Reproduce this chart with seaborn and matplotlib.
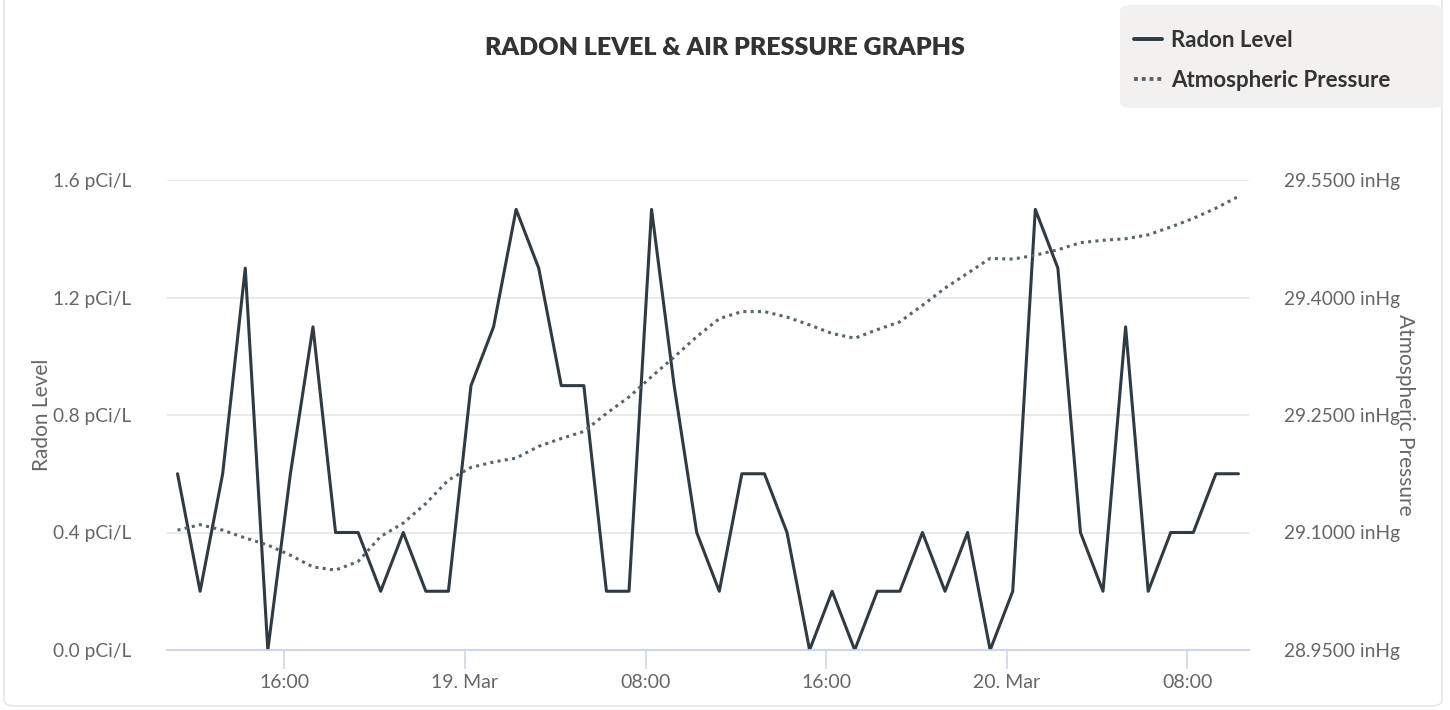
import pandas as pd
import matplotlib.pyplot as plt
import matplotlib.dates as mdates
from matplotlib.lines import Line2D
from matplotlib.patches import FancyBboxPatch
import seaborn as sns

# hourly readings, 18 Mar 11:16 -> 20 Mar 10:16
start_time = "2024-03-18 11:16"
radon_level = [0.6, 0.2, 0.6, 1.3, 0.0, 0.6, 1.1, 0.4, 0.4, 0.2, 0.4, 0.2,
               0.2, 0.9, 1.1, 1.5, 1.3, 0.9, 0.9, 0.2, 0.2, 1.5, 0.9, 0.4,
               0.2, 0.6, 0.6, 0.4, 0.0, 0.2, 0.0, 0.2, 0.2, 0.4, 0.2, 0.4,
               0.0, 0.2, 1.5, 1.3, 0.4, 0.2, 1.1, 0.2, 0.4, 0.4, 0.6, 0.6]
pressure = [29.103, 29.110, 29.103, 29.093, 29.084, 29.071, 29.056, 29.052,
            29.063, 29.095, 29.112, 29.137, 29.167, 29.183, 29.190, 29.195,
            29.210, 29.220, 29.229, 29.252, 29.273, 29.299, 29.324, 29.350,
            29.373, 29.382, 29.382, 29.375, 29.365, 29.354, 29.348, 29.359,
            29.369, 29.390, 29.412, 29.431, 29.450, 29.449, 29.454, 29.461,
            29.470, 29.473, 29.475, 29.480, 29.490, 29.501, 29.514, 29.529]
radon_ticks = [0.0, 0.4, 0.8, 1.2, 1.6]
pressure_ticks = [28.95, 29.10, 29.25, 29.40, 29.55]

df = pd.DataFrame({
    "time": pd.date_range(start_time, periods=len(radon_level), freq="h"),
    "radon": radon_level,
    "pressure": pressure,
})

sns.set_theme(style="white")
plt.rcParams["font.family"] = ["Lato", "DejaVu Sans"]

radon_color = "#2f3b44"
pressure_color = "#58646e"
label_color = "#666666"
W, H = 1450, 710

fig = plt.figure(figsize=(14.5, 7.1), dpi=100)
# outer chart border
fig.patches.append(FancyBboxPatch((4 / W, 4 / H), 1438 / W, 720 / H,
                                  boxstyle="round,pad=0,rounding_size=0.008",
                                  transform=fig.transFigure, facecolor="none",
                                  edgecolor="#e8e8e8", lw=1.2))
# legend background
fig.patches.append(FancyBboxPatch((1120 / W, 1 - 108 / H), 323 / W, 103 / H,
                                  boxstyle="round,pad=0,rounding_size=0.008",
                                  transform=fig.transFigure, facecolor="#f2f1ef",
                                  edgecolor="none"))

ax = fig.add_axes([167 / W, 1 - 650 / H, 1082 / W, 470 / H])
ax2 = ax.twinx()

sns.lineplot(data=df, x="time", y="radon", ax=ax, color=radon_color, lw=2.2, zorder=3)
sns.lineplot(data=df, x="time", y="pressure", ax=ax2, color=pressure_color, lw=2.2,
             linestyle=(0, (1, 1.4)), dash_capstyle="butt", zorder=3)

pad = pd.Timedelta(minutes=28)
ax.set_xlim(df["time"].iloc[0] - pad, df["time"].iloc[-1] + pad)
ax.set_ylim(0, 1.6)
ax2.set_ylim(28.95, 29.55)
ax.set_yticks(radon_ticks)
ax.set_yticklabels([f"{v:.1f} pCi/L" for v in radon_ticks])
ax2.set_yticks(pressure_ticks)
ax2.set_yticklabels([f"{v:.4f} inHg" for v in pressure_ticks])

ax.xaxis.set_major_locator(mdates.HourLocator(byhour=[0, 8, 16]))
ax.xaxis.set_major_formatter(plt.FuncFormatter(
    lambda x, pos: mdates.num2date(x).strftime("%d. %b") if mdates.num2date(x).hour == 0
    else mdates.num2date(x).strftime("%H:%M")))

ax.grid(axis="y", color="#e6e6e6", lw=1.2)
ax.set_axisbelow(True)
for a in (ax, ax2):
    for s in ("top", "left", "right"):
        a.spines[s].set_visible(False)
    a.spines["bottom"].set_color("#ccd6eb")
    a.spines["bottom"].set_linewidth(1.2)
ax.tick_params(axis="x", colors="#ccd6eb", length=14, width=1.2, labelcolor=label_color,
               labelsize=14, pad=3, direction="out", bottom=True)
ax.tick_params(axis="y", length=0, labelcolor=label_color, labelsize=13.8, pad=26)
ax2.tick_params(axis="y", length=0, labelcolor=label_color, labelsize=13.8, pad=25)

ax.set_xlabel("")
ax.set_ylabel("Radon Level", color=label_color, fontsize=15)
ax.yaxis.set_label_coords((52 - 167) / 1082, 0.5)
ax2.set_ylabel("Atmospheric Pressure", color=label_color, fontsize=15, rotation=270,
               va="center")
ax2.yaxis.set_label_coords((1405 - 167) / 1082, 0.5)

fig.text(725 / W, 1 - 48 / H, "RADON LEVEL & AIR PRESSURE GRAPHS",
         ha="center", va="center", fontsize=18, fontweight="heavy", color="#333333")

handles = [Line2D([], [], color=radon_color, lw=2.8),
           Line2D([], [], color=pressure_color, lw=2.8, linestyle=(0, (1, 1.0)))]
fig.legend(handles, ["Radon Level", "Atmospheric Pressure"], loc="upper left",
           bbox_to_anchor=(1134 / W, 1 - 30 / H), frameon=False,
           prop={"weight": "bold", "size": 16}, labelcolor="#333333",
           handlelength=1.25, handletextpad=0.4, labelspacing=0.85,
           borderpad=0, borderaxespad=0)

fig.savefig("out.png", dpi=100)
